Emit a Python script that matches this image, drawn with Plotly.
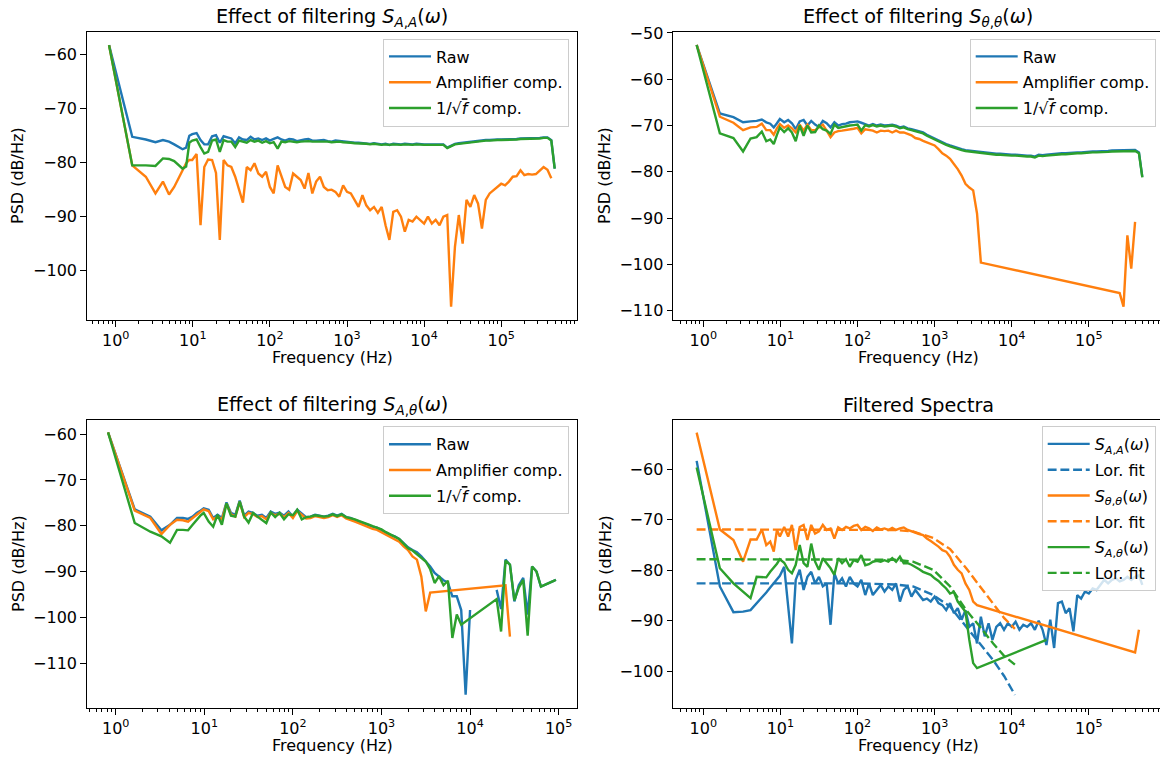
import plotly.graph_objects as go

# ---------------- data ----------------
FREQ = [0.82, 1.64, 2.46, 3.28, 4.1, 4.92, 5.74, 6.56, 7.38, 8.2, 9.02, 9.84,
        11.2, 12.6, 14.1, 15.8, 17.8, 20.0, 22.4, 25.1, 28.2, 31.6, 35.5, 39.8, 44.7, 50.1, 56.2, 63.1, 70.8, 79.4, 89.1,
        100, 112, 126, 141, 158, 178, 200, 224, 251, 282, 316, 355, 398, 447, 501, 562, 631, 708, 794, 891,
        1000, 1122, 1259, 1413, 1585, 1778, 1995, 2239, 2512, 2818, 3162, 3548, 3981, 4467, 5012, 5623, 6310, 7079, 7943, 8913,
        10000, 11220, 12589, 14125, 15849, 17783, 19953, 22387, 25119, 28184, 31623, 35481, 39811, 44668, 50119, 56234, 63096, 70795, 79433, 89125,
        100000, 112202, 125893, 141254, 158489, 177828, 199526, 223872, 251189, 281838, 316228, 354813, 398107, 446684,
        494000]

FREQ_BL = [0.82, 1.64, 2.46, 3.28, 4.1, 4.92, 5.74, 6.56, 7.38, 8.2, 9.02, 9.84,
           11.2, 12.6, 14.1, 15.8, 17.8, 20.0, 22.4, 25.1, 28.2, 31.6, 35.5, 39.8, 44.7, 50.1, 56.2, 63.1, 70.8, 79.4, 89.1,
           100, 112, 126, 141, 158, 178, 200, 224, 251, 282, 316, 355, 398, 447, 501, 562, 631, 708, 794, 891,
           1000, 1122, 1259, 1413, 1585, 1778, 1995, 2239, 2512, 2818, 3162, 3548, 3981, 4467, 5012, 5623, 6310, 7079, 7943, 8913,
           10000, 11220, 12589, 14125, 15849, 17783, 19953, 22387, 25119, 28184, 31623, 35481, 39811, 44668, 50119, 56234, 63096, 70795, 79433, 89125,
           93000]

N = None

# Top-left: S_AA
TL_RAW = [-58.3, -75.3, -75.8, -76.3, -75.9, -76.2, -76.7, -77.2, -77.6, -77.3, -75.1, -74.8,
          -74.6, -75.9, -76.7, -76.7, -75.2, -75.0, -76.4, -75.2, -75.4, -75.6, -76.5, -75.4, -75.8, -75.9, -75.3, -75.8, -75.6, -75.9, -75.6,
          -76.0, -75.7, -75.4, -75.8, -76.0, -75.7, -75.8, -76.1, -75.9, -75.8, -75.7, -76.0, -76.0, -75.9, -75.9, -76.1, -76.2, -76.0, -76.1, -76.2,
          -76.2, -76.3, -76.4, -76.4, -76.5, -76.5, -76.6, -76.5, -76.6, -76.7, -76.6, -76.8, -76.6, -76.7, -76.7, -76.6, -76.7, -76.7, -76.6, -76.7,
          -76.7, -76.7, -76.7, -76.6, -76.7, -76.7, -77.3, -76.9, -76.6, -76.5, -76.4, -76.3, -76.2, -76.1, -76.1, -76.0, -75.9, -75.9, -75.8, -75.8,
          -75.8, -75.8, -75.7, -75.7, -75.7, -75.6, -75.6, -75.6, -75.6, -75.6, -75.5, -75.4, -75.4, -75.9,
          -81.2]
TL_AMP = [-58.3, -80.6, -82.7, -85.8, -83.6, -86.0, -84.6, -83.0, -81.5, -80.2, -79.6, -79.6,
          -78.5, -91.7, -80.9, -79.5, -79.6, -82.0, -94.4, -79.6, -80.6, -80.9, -82.7, -85.0, -87.5, -80.9, -81.5, -80.2, -82.1, -82.7, -81.8,
          -84.6, -85.8, -80.6, -82.7, -84.6, -85.1, -82.1, -82.7, -83.3, -84.9, -82.0, -85.8, -83.6, -82.7, -84.6, -85.2, -85.1, -85.5, -86.4, -84.3,
          -85.5, -85.8, -87.0, -88.3, -86.1, -88.0, -88.9, -88.3, -89.4, -88.3, -91.7, -94.4, -89.2, -88.9, -90.1, -92.9, -90.7, -91.0, -90.1, -90.7,
          -91.4, -90.1, -91.4, -90.7, -91.7, -90.1, -89.8, -106.8, -95.7, -89.8, -95.1, -87.0, -88.3, -86.1, -87.7, -92.3, -87.0, -85.8, -85.2, -84.6,
          -84.0, -84.3, -83.6, -82.7, -82.6, -81.5, -82.4, -82.2, -82.3, -82.2, -81.5, -80.9, -81.4, -83.0,
          N]
TL_SQF = [-58.3, -80.6, -80.6, -80.7, -79.3, -79.4, -79.8, -80.6, -81.2, -80.8, -76.4, -76.0,
          -75.8, -77.2, -78.4, -78.1, -76.0, -75.8, -78.1, -75.9, -76.2, -76.2, -77.2, -76.0, -76.2, -76.4, -75.9, -76.2, -76.0, -76.4, -76.1,
          -76.5, -76.3, -77.5, -76.2, -76.3, -76.1, -76.2, -76.3, -76.2, -76.1, -76.1, -76.2, -76.2, -76.1, -76.1, -76.2, -76.3, -76.2, -76.2, -76.3,
          -76.3, -76.4, -76.5, -76.5, -76.6, -76.6, -76.7, -76.6, -76.7, -76.8, -76.7, -76.8, -76.7, -76.8, -76.8, -76.7, -76.8, -76.8, -76.7, -76.8,
          -76.8, -76.8, -76.8, -76.7, -76.8, -76.8, -77.4, -77.0, -76.7, -76.6, -76.5, -76.4, -76.3, -76.2, -76.2, -76.1, -76.0, -76.0, -75.9, -75.9,
          -75.9, -75.9, -75.8, -75.8, -75.8, -75.7, -75.7, -75.7, -75.7, -75.7, -75.6, -75.5, -75.5, -76.0,
          -81.2]

# Top-right: S_thth
TR_RAW = [-52.6, -67.4, -68.2, -69.3, -69.1, -69.0, -68.7, -69.3, -69.6, -70.4, -69.5, -68.6,
          -69.3, -68.8, -69.5, -70.8, -69.1, -68.8, -70.0, -69.0, -69.8, -70.3, -69.0, -69.5, -70.4, -69.3, -70.0, -69.7, -69.6, -69.3, -69.2,
          -69.1, -69.4, -69.7, -70.0, -69.7, -70.0, -69.8, -70.0, -69.9, -69.8, -70.0, -70.4, -70.2, -70.6, -70.8, -71.0, -71.3, -71.5, -72.0, -72.4,
          -72.9, -73.3, -73.7, -74.0, -74.3, -74.6, -74.8, -75.1, -75.3, -75.4, -75.6, -75.7, -75.8, -75.9, -76.0, -76.0, -76.1, -76.1, -76.2, -76.2,
          -76.3, -76.3, -76.4, -76.4, -76.5, -76.5, -76.7, -76.3, -76.4, -76.3, -76.2, -76.2, -76.1, -76.0, -76.0, -75.9, -75.8, -75.8, -75.8, -75.7,
          -75.7, -75.6, -75.6, -75.6, -75.5, -75.5, -75.4, -75.4, -75.4, -75.3, -75.3, -75.3, -75.3, -75.8,
          -81.1]
TR_AMP = [-52.6, -68.1, -69.4, -71.0, -70.4, -70.3, -69.6, -71.0, -71.0, -72.0, -70.6, -69.7,
          -70.5, -70.0, -70.6, -71.5, -69.8, -71.1, -69.8, -71.0, -71.0, -70.4, -69.8, -71.1, -72.5, -71.5, -71.2, -71.1, -71.0, -70.8, -70.7,
          -70.5, -71.7, -70.8, -71.0, -71.1, -71.5, -71.1, -71.2, -71.1, -71.5, -71.1, -71.5, -71.5, -71.8, -72.1, -72.7, -72.9, -73.3, -73.6, -74.0,
          -74.3, -75.1, -76.0, -76.5, -77.2, -78.3, -79.4, -80.8, -82.6, -83.4, -84.0, -89.0, -99.6, N, N, N, N, N, N, N,
          N, N, N, N, N, N, N, N, N, N, N, N, N, N, N, N, N, N, N, N,
          N, N, N, N, N, N, N, N, -106.2, -109.1, -93.7, -100.9, -90.8, N,
          N]
TR_SQF = [-52.6, -71.7, -72.7, -75.6, -72.8, -72.5, -71.3, -73.4, -73.0, -74.0, -72.0, -70.4,
          -71.4, -70.6, -71.5, -73.4, -70.0, -72.2, -70.0, -71.5, -71.4, -70.0, -70.8, -71.1, -71.8, -69.8, -70.5, -70.3, -70.1, -70.0, -69.9,
          -69.8, -71.1, -69.9, -70.2, -69.9, -70.2, -70.0, -70.2, -70.1, -70.0, -70.2, -70.6, -70.4, -70.8, -71.0, -71.2, -71.5, -71.7, -72.2, -72.6,
          -73.1, -73.5, -73.9, -74.2, -74.5, -74.8, -75.0, -75.3, -75.5, -75.6, -75.8, -75.9, -76.0, -76.1, -76.2, -76.2, -76.3, -76.3, -76.4, -76.4,
          -76.5, -76.5, -76.6, -76.6, -76.7, -76.7, -76.9, -76.5, -76.6, -76.5, -76.4, -76.4, -76.3, -76.2, -76.2, -76.1, -76.0, -76.0, -76.0, -75.9,
          -75.9, -75.8, -75.8, -75.8, -75.7, -75.7, -75.6, -75.6, -75.6, -75.5, -75.5, -75.5, -75.5, -76.0,
          -81.2]

# Bottom-left: S_Ath
BL_RAW = [-59.6, -76.4, -78.0, -81.0, -79.8, -78.3, -78.3, -78.5, -78.0, -77.2, -76.7, -76.2,
          -76.5, -78.3, -77.6, -78.3, -74.9, -77.2, -77.6, -74.5, -77.8, -76.9, -77.2, -77.8, -77.6, -78.3, -76.9, -77.4, -77.1, -77.8, -76.9,
          -78.0, -76.5, -77.4, -78.1, -78.0, -77.6, -77.8, -78.0, -77.8, -77.4, -77.8, -77.4, -78.1, -78.3, -78.7, -79.1, -79.4, -79.8, -80.2, -80.4,
          -80.9, -81.5, -82.0, -82.3, -82.9, -83.8, -84.7, -85.3, -85.8, -86.7, -87.8, -88.9, -90.3, -91.1, -91.9, -92.4, -95.4, -95.4, -98.4, -116.9,
          -98.4, N, N, N, N, N, -94.0, -98.2, -87.4, -88.5, -96.5, -93.0, -91.4, -99.4, -88.9, -90.0, -93.3, -92.8, -92.4, -92.0,
          -91.8]
BL_AMP = [-59.6, -76.7, -78.3, -81.8, -79.8, -78.7, -78.8, -79.1, -78.3, -77.6, -76.9, -76.4,
          -76.8, -78.6, -78.0, -78.6, -75.2, -77.5, -78.0, -74.8, -78.1, -77.2, -77.5, -78.1, -77.9, -78.6, -77.2, -77.7, -77.4, -78.1, -77.2,
          -78.3, -76.8, -77.7, -78.4, -78.3, -77.9, -78.1, -78.3, -78.1, -77.7, -78.1, -77.7, -78.4, -78.7, -79.1, -79.5, -79.9, -80.3, -80.7, -80.9,
          -81.4, -82.0, -82.5, -82.9, -83.5, -84.5, -85.3, -86.7, -87.4, -91.1, -98.7, -94.6, N, N, N, N, N, N, N, N,
          N, N, N, N, N, N, N, N, -93.0, -104.2, N, N, N, N, N, N, N, N, N, N,
          N]
BL_SQF = [-59.6, -79.4, -81.3, -82.3, -83.7, -80.9, -80.9, -81.0, -79.8, -78.7, -77.8, -77.2,
          -79.1, -80.2, -77.6, -79.8, -75.1, -77.8, -78.0, -74.7, -78.0, -79.3, -77.2, -78.0, -78.7, -79.4, -77.1, -78.1, -77.2, -78.6, -77.5,
          -77.7, -76.5, -78.6, -78.1, -78.0, -77.7, -77.9, -78.0, -77.9, -77.5, -77.9, -77.5, -78.1, -78.3, -78.6, -79.0, -79.3, -79.7, -80.1, -80.4,
          -80.8, -81.4, -81.9, -82.3, -82.9, -83.9, -84.9, -85.4, -86.2, -87.2, -87.8, -89.5, -92.5, -91.0, -93.0, -92.0, -104.5, -99.4, -101.6, N,
          N, N, N, N, N, N, -96.0, -103.1, -87.6, -88.5, -96.3, -93.5, -91.8, -104.0, -88.9, -90.0, -93.3, -92.8, -92.4, -92.0,
          -91.8]

# Bottom-right: filtered spectra
BR_AA = [-58.3, -83.2, -88.3, -88.2, -87.9, -86.6, -85.4, -84.4, -83.4, -82.6, -81.8, -81.1,
         -79.3, -86.5, -94.5, -81.9, -79.9, -83.9, -81.3, -80.3, -82.6, -81.3, -83.2, -82.6, -90.8, -80.6, -82.6, -81.6, -83.2, -81.3, -82.6,
         -83.2, -81.9, -84.9, -82.6, -84.9, -83.9, -82.9, -84.2, -83.2, -83.9, -82.6, -86.2, -83.9, -83.2, -85.2, -83.9, -84.9, -85.9, -85.6, -86.2,
         -85.2, -86.5, -86.9, -87.9, -86.5, -88.5, -87.5, -89.8, -87.9, -91.2, -90.5, -94.5, -89.2, -93.1, -90.5, -93.8, -91.2, -90.5, -91.8, -90.5,
         -91.2, -90.2, -91.8, -90.8, -91.2, -90.5, -91.8, -90.0, -91.8, -94.8, -89.8, -95.4, -86.5, -86.2, -88.5, -87.5, -92.1, -84.9, -85.6, -84.2,
         -84.6, -83.6, -83.9, -82.9, -81.9, -82.6, -81.9, -81.6, -82.2, -81.9, -81.3, -81.9, -81.3, -81.0,
         -82.9]
BR_TT = [-52.7, -71.9, -74.0, -78.3, -73.9, -73.9, -71.9, -75.0, -74.3, -76.3, -72.0, -73.3,
         -71.4, -73.3, -71.0, -76.0, -71.4, -71.0, -74.0, -71.0, -72.7, -72.3, -71.0, -72.0, -71.7, -73.7, -71.5, -72.0, -71.4, -71.7, -71.2,
         -71.0, -72.0, -71.4, -71.7, -72.2, -71.5, -71.9, -71.7, -72.0, -71.6, -72.0, -71.7, -71.5, -72.0, -72.3, -72.5, -72.8, -73.0, -73.7, -74.2,
         -74.7, -75.3, -76.0, -76.3, -77.3, -78.9, -79.9, -80.6, -82.6, -83.9, -86.2, -86.9, N, N, N, N, N, N, N, N,
         N, N, N, N, N, N, N, N, N, N, N, N, N, N, N, N, N, N, N, N,
         N, N, N, N, N, N, N, N, N, N, N, N, -96.3, -91.8,
         N]
BR_AT = [-59.6, -79.6, -82.6, -84.2, -85.5, -81.3, -81.4, -81.4, -80.3, -79.5, -78.7, -77.8,
         -78.5, -79.9, -80.6, -78.9, -75.0, -78.6, -79.3, -74.7, -78.3, -79.9, -77.6, -78.6, -79.6, -80.9, -77.6, -78.6, -77.8, -79.3, -78.0,
         -78.3, -77.0, -79.0, -78.8, -78.3, -78.1, -78.3, -78.0, -78.3, -77.6, -78.3, -77.3, -78.6, -78.6, -78.9, -79.3, -79.8, -80.3, -80.6, -80.9,
         -81.6, -82.1, -82.9, -83.6, -84.6, -84.3, -86.2, -87.2, -88.2, -93.8, -98.4, -99.4, N, N, N, N, N, N, N, N,
         N, N, N, N, N, N, N, N, N, -93.8, N, N, N, N, N, N, N, N, N, N,
         N, N, N, N, N, N, N, N, N, N, N, N, N, N,
         N]

FIT_F = [0.82, 100, 300, 525, 960, 1590, 2570, 3880, 5750, 8000, 11000]
FIT_AA = [-82.6, -82.6, -82.8, -83.2, -84.9, -87.2, -91.2, -94.5, -97.8, -101.0, -104.7]
FIT_TT = [-71.9, -71.9, -72.0, -72.3, -73.6, -75.8, -79.6, -83.2, -86.5, -89.5, -91.6]
FIT_AT = [-77.8, -77.8, -77.9, -78.3, -79.9, -83.2, -87.9, -91.2, -94.5, -97.0, -98.7]

for name, arr, ref in [("TL_RAW", TL_RAW, FREQ), ("TL_AMP", TL_AMP, FREQ), ("TL_SQF", TL_SQF, FREQ),
                       ("TR_RAW", TR_RAW, FREQ), ("TR_AMP", TR_AMP, FREQ), ("TR_SQF", TR_SQF, FREQ),
                       ("BL_RAW", BL_RAW, FREQ_BL), ("BL_AMP", BL_AMP, FREQ_BL), ("BL_SQF", BL_SQF, FREQ_BL),
                       ("BR_AA", BR_AA, FREQ), ("BR_TT", BR_TT, FREQ), ("BR_AT", BR_AT, FREQ)]:
    assert len(arr) == len(ref), f"{name}: {len(arr)} vs {len(ref)}"

# ---------------- styling ----------------
W, H = 1160, 763
FONT = "DejaVu Sans"
C0, C1, C2 = "#1f77b4", "#ff7f0e", "#2ca02c"
LW = 2.4
DASH = "8.9px,3.8px"

fig = go.Figure()
_gid = [0]

def add(x, y, color, name, xa, ya, leg, dash=None, gaps=True):
    _gid[0] += 1
    fig.add_trace(go.Scatter(x=x, y=y, mode="lines", name=name, xaxis=xa, yaxis=ya,
                             legend=leg, legendgroup="g%d" % _gid[0], connectgaps=gaps,
                             line=dict(color=color, width=LW, dash=dash or "solid")))

SQF_LABEL = "1/√<span style='text-decoration:overline'><i>f</i></span> comp."

add(FREQ, TL_RAW, C0, "Raw", "x", "y", "legend")
add(FREQ, TL_AMP, C1, "Amplifier comp.", "x", "y", "legend")
add(FREQ, TL_SQF, C2, SQF_LABEL, "x", "y", "legend")

add(FREQ, TR_RAW, C0, "Raw", "x2", "y2", "legend2")
add(FREQ, TR_AMP, C1, "Amplifier comp.", "x2", "y2", "legend2")
add(FREQ, TR_SQF, C2, SQF_LABEL, "x2", "y2", "legend2")

add(FREQ_BL, BL_RAW, C0, "Raw", "x3", "y3", "legend3", gaps=False)
add(FREQ_BL, BL_AMP, C1, "Amplifier comp.", "x3", "y3", "legend3")
add(FREQ_BL, BL_SQF, C2, SQF_LABEL, "x3", "y3", "legend3")

add(FREQ, BR_AA, C0, "<i>S</i><sub><i>A</i>,<i>A</i></sub>(<i>ω</i>)", "x4", "y4", "legend4")
add(FIT_F, FIT_AA, C0, "Lor. fit", "x4", "y4", "legend4", dash=DASH)
add(FREQ, BR_TT, C1, "<i>S</i><sub><i>θ</i>,<i>θ</i></sub>(<i>ω</i>)", "x4", "y4", "legend4")
add(FIT_F, FIT_TT, C1, "Lor. fit", "x4", "y4", "legend4", dash=DASH)
add(FREQ, BR_AT, C2, "<i>S</i><sub><i>A</i>,<i>θ</i></sub>(<i>ω</i>)", "x4", "y4", "legend4")
add(FIT_F, FIT_AT, C2, "Lor. fit", "x4", "y4", "legend4", dash=DASH)

MAJ = [1, 10, 100, 1000, 10000, 100000]
MAJ_TXT = ["10<sup>%d</sup>" % k for k in range(6)]
MINOR = [m * 10.0 ** k for k in range(-1, 6) for m in range(2, 10)]

def yticks(vals):
    return dict(tickmode="array", tickvals=vals, ticktext=["−%d" % (-v) for v in vals])

def xax(x0, x1, rng, anchor):
    return dict(type="log", domain=[x0 / W, x1 / W], range=rng, anchor=anchor, automargin=False,
                showline=True, linecolor="black", linewidth=1.3, mirror=True,
                showgrid=False, zeroline=False, ticks="outside", ticklen=5.6, tickwidth=1.3,
                tickcolor="black", tickmode="array", tickvals=MAJ, ticktext=MAJ_TXT,
                tickfont=dict(family=FONT, size=16, color="black"),
                minor=dict(ticks="outside", ticklen=3.2, tickwidth=1.0, tickcolor="black",
                           tickmode="array", tickvals=MINOR, showgrid=False))

def yax(y0, y1, rng, anchor, vals, mirror=True):
    d = dict(domain=[1 - y1 / H, 1 - y0 / H], range=rng, anchor=anchor, automargin=False,
             showline=True, linecolor="black", linewidth=1.3, mirror=mirror,
             showgrid=False, zeroline=False, ticks="outside", ticklen=5.6, tickwidth=1.3,
             tickcolor="black", tickfont=dict(family=FONT, size=16, color="black"))
    d.update(yticks(vals))
    return d

XR_L = 1160.0
layout = dict(
    width=W, height=H, margin=dict(l=0, r=0, t=0, b=0, pad=0, autoexpand=False),
    paper_bgcolor="white", plot_bgcolor="white",
    font=dict(family=FONT, size=16, color="black"),
    xaxis=xax(87, 577, [-0.372, 5.983], "y"),
    yaxis=yax(32, 320, [-109.26, -55.87], "x", [-60, -70, -80, -90, -100]),
    xaxis2=xax(673.3, XR_L, [-0.389, 5.923], "y2"),
    yaxis2=yax(32, 320, [-112.0, -49.8], "x2", [-50, -60, -70, -80, -90, -100, -110], mirror=False),
    xaxis3=xax(87, 577, [-0.324, 5.207], "y3"),
    yaxis3=yax(420, 708, [-119.8, -56.9], "x3", [-60, -70, -80, -90, -100, -110]),
    xaxis4=xax(673.3, XR_L, [-0.389, 5.923], "y4"),
    yaxis4=yax(420, 708, [-107.3, -50.2], "x4", [-60, -70, -80, -90, -100], mirror=False),
    showlegend=True,
)

def leg(xr, yt, gap):
    return dict(x=xr / W, y=1 - yt / H, xanchor="right", yanchor="top",
                bgcolor="rgba(255,255,255,0.8)", bordercolor="#cccccc", borderwidth=1,
                font=dict(family=FONT, size=16, color="black"), itemwidth=42,
                tracegroupgap=gap)

layout["legend"] = leg(569, 38.5, 2)
layout["legend2"] = leg(1155.7, 38.5, 2)
layout["legend3"] = leg(569, 426.3, 2)
layout["legend4"] = leg(1155.7, 426.0, 2)

fig.update_layout(**layout)

# titles and axis labels
TFS = 19.2
titles = [
    (332 / W, 17.5, "Effect of filtering <i>S</i><sub><i>A</i>,<i>A</i></sub>(<i>ω</i>)"),
    (918.3 / W, 17.5, "Effect of filtering <i>S</i><sub><i>θ</i>,<i>θ</i></sub>(<i>ω</i>)"),
    (332 / W, 405.5, "Effect of filtering <i>S</i><sub><i>A</i>,<i>θ</i></sub>(<i>ω</i>)"),
    (918.3 / W, 405.5, "Filtered Spectra"),
]
for x, ypx, t in titles:
    fig.add_annotation(x=x, y=1 - ypx / H, xref="paper", yref="paper", text=t, showarrow=False,
                       xanchor="center", yanchor="middle", font=dict(family=FONT, size=TFS, color="black"))

for x, ypx in [(332 / W, 357), (918.3 / W, 357), (332 / W, 745), (918.3 / W, 745)]:
    fig.add_annotation(x=x, y=1 - ypx / H, xref="paper", yref="paper", text="Frequency (Hz)",
                       showarrow=False, xanchor="center", yanchor="middle",
                       font=dict(family=FONT, size=16, color="black"))

for xpx, ypx in [(18, 176), (605, 176), (18, 564), (605, 564)]:
    fig.add_annotation(x=xpx / W, y=1 - ypx / H, xref="paper", yref="paper", text="PSD (dB/Hz)",
                       showarrow=False, xanchor="center", yanchor="middle", textangle=-90,
                       font=dict(family=FONT, size=16, color="black"))

fig.write_html("out.html", config={"displayModeBar": False},
               post_script="document.body.style.margin='0px';document.body.style.overflow='hidden';")
